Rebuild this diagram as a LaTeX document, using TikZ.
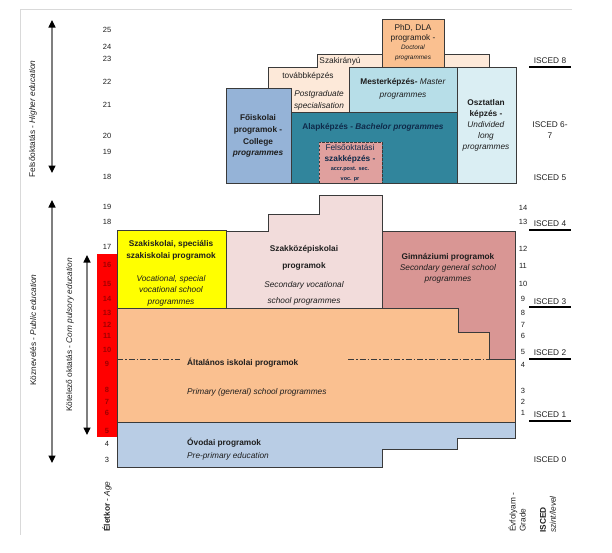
\documentclass[tikz,border=0pt]{standalone}
\usepackage{fontspec}
\setmainfont{Liberation Sans}
\usetikzlibrary{arrows.meta}
\definecolor{edge}{HTML}{3A3A3A}
\definecolor{txt}{HTML}{1E1E1E}
\definecolor{navy}{HTML}{0F2A4A}
\definecolor{numred}{HTML}{A00000}
\definecolor{framegray}{HTML}{D9D9D9}
\definecolor{arrgray}{HTML}{7F7F7F}
\definecolor{cyellow}{HTML}{FFFF00}
\definecolor{cred}{HTML}{FF0000}
\definecolor{corange}{HTML}{FAC090}
\definecolor{cszk}{HTML}{F2DCDB}
\definecolor{cgim}{HTML}{D99694}
\definecolor{cov}{HTML}{B9CDE5}
\definecolor{cfo}{HTML}{95B3D7}
\definecolor{calap}{HTML}{31859C}
\definecolor{cmes}{HTML}{B7DEE8}
\definecolor{cosz}{HTML}{DAEEF3}
\definecolor{cpeach}{HTML}{FDE9D9}
\definecolor{cphd}{HTML}{FAC090}
\definecolor{cfsz}{HTML}{E0A09E}
\tikzset{
  bx/.style={draw=edge, line width=0.9pt},
  tx/.style={inner sep=0pt, align=center, text=txt, font=\fontsize{8.3}{11.5}\selectfont},
  tsm/.style={inner sep=0pt, align=center, text=txt, font=\fontsize{6.2}{10}\selectfont},
  num/.style={inner sep=0pt, text=txt, font=\fontsize{7.5}{9}\selectfont},
  rnum/.style={inner sep=0pt, text=numred, font=\fontsize{7.5}{9}\selectfont\bfseries},
  arr/.style={draw=arrgray, line width=1.2pt, {Triangle[length=7.5pt,width=7pt,color=black]}-{Triangle[length=7.5pt,width=7pt,color=black]}},
  uline/.style={line width=1.4pt, draw=black},
  dashdot/.style={draw=edge, line width=0.9pt, dash pattern=on 6pt off 2pt on 1.5pt off 2pt},
}
\begin{document}
\begin{tikzpicture}[x=1pt,y=-1pt]
\useasboundingbox (0,0) rectangle (612,552);
% frame
\coordinate (fr-tr) at (572,9);
\coordinate (fr-tl) at (20,9);
\coordinate (fr-bl) at (20,535);
\draw[framegray, line width=0.8pt] (fr-tr) -- (fr-tl) -- (fr-bl);

% ---------- higher education ----------
\draw[bx, fill=cpeach] (268,112) -- (268,67) -- (317,67) -- (317,54) -- (489,54) -- (489,67) -- (349,67) -- (349,112) -- cycle;
\draw[bx, fill=cphd] (382,19) rectangle (444,67);
\draw[bx, fill=cmes] (349,67) rectangle (457,112);
\draw[bx, fill=cosz] (457,67) rectangle (516,183);
\draw[bx, fill=cfo] (226,88) rectangle (291,183);
\draw[bx, fill=calap] (291,112) rectangle (457,183);
\draw[draw=edge, line width=0.9pt, fill=cfsz, dash pattern=on 2.5pt off 1.5pt] (319,183) -- (319,142) -- (382,142) -- (382,183);

\node[tx] (t-szakir) at (340,61) {Szakirányú};
\node[tx] (t-tovabb) at (308,76) {továbbképzés};
\node[tx, font=\fontsize{8.3}{12}\selectfont\itshape] (t-postgr) at (319,100) {Postgraduate\\specialisation};
\node[tx, font=\fontsize{8.3}{10.5}\selectfont] (t-phd) at (413,33.5) {PhD, DLA\\programok -};
\node[tsm, font=\fontsize{6.4}{10}\selectfont\itshape] (t-doct) at (413,53) {Doctoral\\programmes};
\node[tx, font=\fontsize{8.3}{13}\selectfont] (t-mes) at (403,88.5) {\textbf{Mesterképzés-} \textit{Master}\\\textit{programmes}};
\node[tx, font=\fontsize{8.3}{11}\selectfont] (t-osz) at (486,125) {\textbf{Osztatlan}\\\textbf{képzés -}\\\textit{Undivided}\\\textit{long}\\\textit{programmes}};
\node[tx, font=\fontsize{8.3}{11.7}\selectfont\bfseries] (t-fo) at (258,136) {Főiskolai\\programok -\\College\\\textit{programmes}};
\node[tx, text=navy, font=\fontsize{8.3}{11}\selectfont\bfseries] (t-alap) at (373,127) {Alapképzés - \textit{Bachelor programmes}};
\node[tx, text=navy, font=\fontsize{8.3}{11}\selectfont] (t-fsz) at (350,154) {Felsőoktatási\\\textbf{szakképzés -}};
\node[tsm, text=navy, font=\fontsize{5.5}{10}\selectfont\bfseries] (t-fsz2) at (350,174.5) {accr.post. sec.\\voc. pr};

% ---------- public education ----------
\draw[bx, fill=cgim] (382,231) rectangle (515,359);
\draw[bx, fill=cszk] (226,308) -- (226,231) -- (268,231) -- (268,214) -- (319,214) -- (319,195) -- (382,195) -- (382,308) -- cycle;
\draw[bx, fill=cyellow] (117,230) rectangle (226,308);
\draw[bx, fill=corange] (117,308) -- (458,308) -- (458,332) -- (489,332) -- (489,359) -- (515,359) -- (515,422) -- (117,422) -- cycle;
\draw[bx, fill=cov] (117,422) -- (515,422) -- (515,438) -- (457,438) -- (457,449) -- (382,449) -- (382,467) -- (117,467) -- cycle;
\fill[cred] (97,254) rectangle (117,437);

\coordinate (dl-a) at (117,359);
\coordinate (dl-b) at (180,359);
\coordinate (dl-c) at (348,359);
\coordinate (dl-d) at (515,359);
\draw[dashdot] (dl-a) -- (dl-b);
\draw[dashdot] (dl-c) -- (dl-d);

\node[tx, font=\fontsize{8.3}{12}\selectfont\bfseries] (t-szi) at (171,250) {Szakiskolai, speciális\\szakiskolai programok};
\node[tx, font=\fontsize{8.3}{11.5}\selectfont\itshape] (t-szi2) at (171,290.5) {Vocational, special\\vocational school\\programmes};
\node[tx, font=\fontsize{8.3}{17}\selectfont\bfseries] (t-szk) at (304,257.5) {Szakközépiskolai\\programok};
\node[tx, font=\fontsize{8.3}{16}\selectfont\itshape] (t-szk2) at (304,293) {Secondary vocational\\school programmes};
\node[tx, font=\fontsize{8.3}{11}\selectfont] (t-gim) at (448,268) {\textbf{Gimnáziumi programok}\\\textit{Secondary general school}\\\textit{programmes}};
\node[tx, font=\fontsize{8.3}{11}\selectfont\bfseries, anchor=west] (t-alt) at (187,363) {Általános iskolai programok};
\node[tx, font=\fontsize{8.3}{11}\selectfont\itshape, anchor=west] (t-alt2) at (187,392) {Primary (general) school programmes};
\node[tx, font=\fontsize{8.3}{11}\selectfont\bfseries, anchor=west] (t-ov) at (187,443) {Óvodai programok};
\node[tx, font=\fontsize{8.3}{11}\selectfont\itshape, anchor=west] (t-ov2) at (187,456) {Pre-primary education};

% ---------- arrows ----------
\coordinate (a-he-t) at (52,20);
\coordinate (a-he-b) at (52,173);
\coordinate (a-pe-t) at (52,200);
\coordinate (a-pe-b) at (52,463);
\coordinate (a-ce-t) at (87,255);
\coordinate (a-ce-b) at (87,435);
\draw[arr] (a-he-t) -- (a-he-b);
\draw[arr] (a-pe-t) -- (a-pe-b);
\draw[arr] (a-ce-t) -- (a-ce-b);

\node[tx, rotate=90] (l-he) at (33,119) {Felsőoktatás - \textit{Higher education}};
\node[tx, rotate=90] (l-pe) at (33,330) {Köznevelés - \textit{Public education}};
\node[tx, rotate=90] (l-ce) at (70,335) {Kötelező oktatás - \textit{Com pulsory education}};
\node[tx, rotate=90, anchor=west] (l-age) at (107,532) {\textbf{Életkor} - \textit{Age}};
\node[tx, rotate=90, anchor=west, align=left, font=\fontsize{8.3}{10}\selectfont] (l-grade) at (517,532) {Évfolyam -\\Grade};
\node[tx, rotate=90, anchor=west, align=left, font=\fontsize{8.3}{10}\selectfont] (l-isced) at (548,533) {\textbf{ISCED}\\\textit{szint/level}};

% ---------- ages ----------
\node[num] (ag25) at (107,30) {25};
\node[num] (ag24) at (107,47) {24};
\node[num] (ag23) at (107,59) {23};
\node[num] (ag22) at (107,82) {22};
\node[num] (ag21) at (107,105) {21};
\node[num] (ag20) at (107,136) {20};
\node[num] (ag19h) at (107,152) {19};
\node[num] (ag18h) at (107,177) {18};
\node[num] (ag19) at (107,207) {19};
\node[num] (ag18) at (107,222) {18};
\node[num] (ag17) at (107,247) {17};
\node[rnum] (ag16) at (107,265) {16};
\node[rnum] (ag15) at (107,284) {15};
\node[rnum] (ag14) at (107,299) {14};
\node[rnum] (ag13) at (107,313) {13};
\node[rnum] (ag12) at (107,325) {12};
\node[rnum] (ag11) at (107,336) {11};
\node[rnum] (ag10) at (107,350) {10};
\node[rnum] (ag9) at (107,364) {9};
\node[rnum] (ag8) at (107,390) {8};
\node[rnum] (ag7) at (107,402) {7};
\node[rnum] (ag6) at (107,413) {6};
\node[rnum] (ag5) at (107,431) {5};
\node[num] (ag4) at (107,444) {4};
\node[num] (ag3) at (107,460) {3};

% ---------- grades ----------
\node[num] (gr14) at (523,208) {14};
\node[num] (gr13) at (523,222) {13};
\node[num] (gr12) at (523,249) {12};
\node[num] (gr11) at (523,266) {11};
\node[num] (gr10) at (523,284) {10};
\node[num] (gr9) at (523,299) {9};
\node[num] (gr8) at (523,313) {8};
\node[num] (gr7) at (523,325) {7};
\node[num] (gr6) at (523,336) {6};
\node[num] (gr5) at (523,352) {5};
\node[num] (gr4) at (523,365) {4};
\node[num] (gr3) at (523,391) {3};
\node[num] (gr2) at (523,402) {2};
\node[num] (gr1) at (523,413) {1};

% ---------- ISCED ----------
\node[tx] (is8) at (550,61) {ISCED 8};
\node[tx] (is67) at (550,130) {ISCED 6-\\7};
\node[tx] (is5) at (550,178) {ISCED 5};
\node[tx] (is4) at (550,224) {ISCED 4};
\node[tx] (is3) at (550,302) {ISCED 3};
\node[tx] (is2) at (550,353) {ISCED 2};
\node[tx] (is1) at (550,415) {ISCED 1};
\node[tx] (is0) at (550,460) {ISCED 0};
\coordinate (u8a) at (529,67);  \coordinate (u8b) at (571,67);
\coordinate (u4a) at (529,230); \coordinate (u4b) at (571,230);
\coordinate (u3a) at (529,307); \coordinate (u3b) at (571,307);
\coordinate (u2a) at (529,359); \coordinate (u2b) at (571,359);
\coordinate (u1a) at (529,421); \coordinate (u1b) at (571,421);
\draw[uline] (u8a) -- (u8b);
\draw[uline] (u4a) -- (u4b);
\draw[uline] (u3a) -- (u3b);
\draw[uline] (u2a) -- (u2b);
\draw[uline] (u1a) -- (u1b);
\end{tikzpicture}
\end{document}
